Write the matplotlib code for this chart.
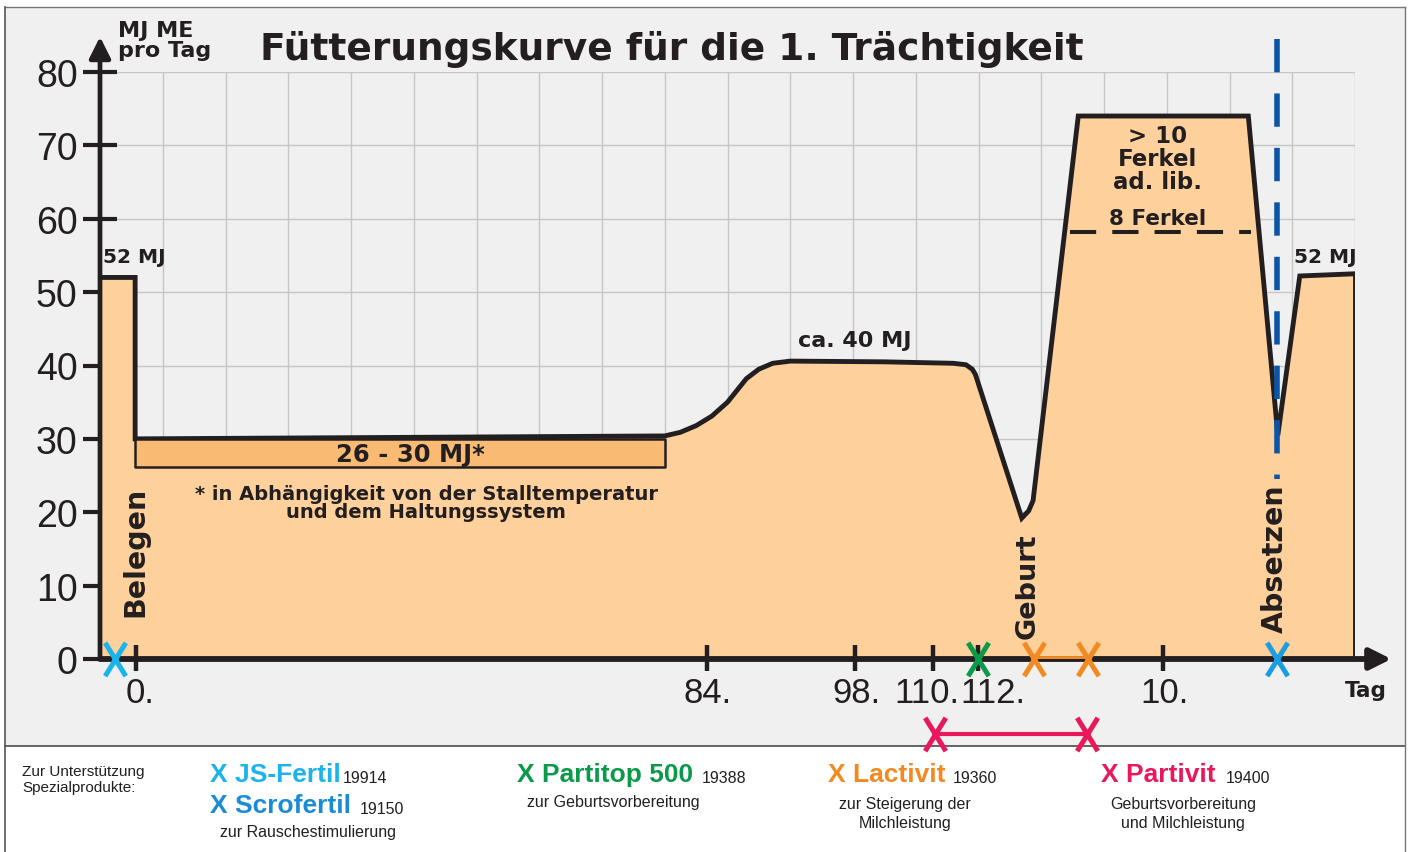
import matplotlib
matplotlib.use("Agg")
import matplotlib.pyplot as plt
from matplotlib.patches import Rectangle
from matplotlib.path import Path

# Curve (schematic x position in grid cells, MJ ME per day)
curve_x = [0, 0, 0.56, 0.56, 9.0, 9.25, 9.5, 9.75, 10.0, 10.15, 10.3, 10.5, 10.72, 11.0, 12.5,
           13.6, 13.8, 13.9, 13.95, 14.69, 14.8, 14.87, 15.59, 18.30, 18.77, 19.12, 20.0, 20.0]
curve_mj = [0, 52, 52, 30, 30.4, 30.9, 31.8, 33.1, 35.0, 36.6, 38.2, 39.5, 40.3, 40.6, 40.5,
            40.3, 40.1, 39.5, 38.8, 19.2, 20.2, 21.6, 74, 74, 30.5, 52.2, 52.5, 0]

# 26 - 30 MJ range band
band_x = [0.56, 9.0]
band_mj = [26.2, 30]

# 8 Ferkel level
ferkel8_x = [15.46, 18.35]
ferkel8_mj = 58.2

# x axis tick marks and labels
tick_pos = [0.57, 9.67, 12.03, 13.27, 13.99, 16.94]
tick_label_pos = [0.64, 9.69, 12.06, 13.18, 14.23, 16.97]
tick_labels = ["0.", "84.", "98.", "110.", "112.", "10."]
y_ticks = [0, 10, 20, 30, 40, 50, 60, 70, 80]

# product markers on the axis
marker_pos = [0.24, 13.99, 14.88, 15.75, 18.76]
marker_colors = ["#1ab4ea", "#0a9a4a", "#f28a22", "#f28a22", "#1a9ee0"]
partivit_pos = [13.31, 15.73]
absetzen_pos = 18.76

# legend products
prod_names = ["X JS-Fertil", "X Scrofertil", "X Partitop 500", "X Lactivit", "X Partivit"]
prod_nums = ["19914", "19150", "19388", "19360", "19400"]
prod_colors = ["#1ab4ea", "#1a8cd6", "#0a9a4a", "#f28a22", "#e8185a"]

W, H = 1410, 853
fig = plt.figure(figsize=(W / 100, H / 100), dpi=100)
fig.patch.set_facecolor("white")

def fx(px):
    return px / W

def fy(py):
    return 1 - py / H

# background panel
fig.patches.append(Rectangle((fx(5), fy(747)), fx(1400), (747 - 8) / H, transform=fig.transFigure,
                             facecolor="#f0f0f0", edgecolor="none", zorder=-5))
fig.add_artist(plt.Line2D([fx(5), fx(1405)], [fy(747), fy(747)], color="#4a4a4a", lw=1.2, zorder=-4))
fig.add_artist(plt.Line2D([fx(5), fx(1405)], [fy(8), fy(8)], color="#777777", lw=1.0, zorder=-4))
fig.add_artist(plt.Line2D([fx(5), fx(5)], [fy(8), 0], color="#555555", lw=1.2, zorder=-4))
fig.add_artist(plt.Line2D([fx(1405), fx(1405)], [fy(8), 0], color="#777777", lw=1.0, zorder=-4))

ax = fig.add_axes([fx(100), fy(660), 1255 / W, (660 - 73) / H])
ax.set_zorder(2)
ax.set_facecolor("none")
ax.set_xlim(0, 20)
ax.set_ylim(0, 80)
for s in ax.spines.values():
    s.set_visible(False)

ink = "#231f20"
sans = "Liberation Sans"

ax.set_xticks(range(0, 21))
ax.set_yticks(y_ticks)
ax.grid(True, color="#c6c6ca", lw=1.0, zorder=0)
ax.set_axisbelow(True)
ax.tick_params(axis="x", length=0, labelbottom=False)
ax.tick_params(axis="y", direction="inout", length=24, width=3, color=ink,
               labelsize=27, pad=4, labelcolor=ink)
for lab in ax.get_yticklabels():
    lab.set_family(sans)

ax.fill(curve_x, curve_mj, color="#fdd09c", zorder=2, lw=0)
ax.plot(curve_x[1:-1], curve_mj[1:-1], color=ink, lw=3.5, zorder=3, solid_joinstyle="miter")
ax.plot([20, 20], [0, 52.5], color=ink, lw=3.5, zorder=3)
ax.fill_between(band_x, band_mj[0], band_mj[1], facecolor="#f9bb74", edgecolor=ink, lw=1.8, zorder=3)
ax.plot(ferkel8_x, [ferkel8_mj] * 2, color=ink, lw=2.9, ls=(0, (6.5, 4)), zorder=4)

# blue weaning line
ax.plot([absetzen_pos] * 2, [84.5, 24.5], color="#0a55a8", lw=4, ls=(0, (6, 3.8)), zorder=4,
        clip_on=False)

# axes with arrows
ax.annotate("", xy=(20.58, 0), xytext=(0, 0), zorder=5, annotation_clip=False,
            arrowprops=dict(arrowstyle="-|>", lw=4.2, color=ink, mutation_scale=32, shrinkA=0, shrinkB=0))
ax.annotate("", xy=(0, 84.8), xytext=(0, 0), zorder=5, annotation_clip=False,
            arrowprops=dict(arrowstyle="-|>", lw=3.4, color=ink, mutation_scale=32, shrinkA=0, shrinkB=0))
for p in tick_pos:
    ax.plot([p, p], [-1.6, 1.9], color=ink, lw=3.2, zorder=5, clip_on=False, solid_capstyle="butt")
for p, lab in zip(tick_label_pos, tick_labels):
    ax.text(p, -4.6, lab, ha="center", va="center", fontsize=25, color=ink,
            family=sans, clip_on=False)
ax.text(20.17, -4.2, "Tag", ha="center", va="center", fontsize=15.5, fontweight="bold", color=ink,
        clip_on=False)

# product X markers (tall condensed cross)
xmark = Path([(-0.62, -1), (0.62, 1), (-0.62, 1), (0.62, -1)],
             [Path.MOVETO, Path.LINETO, Path.MOVETO, Path.LINETO])
ax.plot(marker_pos[2:4], [0, 0], color="#f28a22", lw=4.2, zorder=6)
for p, c in zip(marker_pos, marker_colors):
    ax.plot([p], [0], marker=xmark, ms=24, mew=3.6, color=c, ls="none", zorder=7, clip_on=False)
ax.plot(partivit_pos, [-10.2, -10.2], color="#e8185a", lw=3, zorder=6, clip_on=False)
ax.plot(partivit_pos, [-10.2, -10.2], marker=xmark, ms=24, mew=3.6, color="#e8185a", ls="none",
        zorder=7, clip_on=False)

# labels in the chart
bold = dict(fontweight="bold", color=ink, ha="center", va="center", zorder=8)
ax.text(0.54, 54.9, "52 MJ", fontsize=14.5, **bold)
ax.text(19.52, 54.8, "52 MJ", fontsize=14.5, **bold)
ax.text(12.02, 43.5, "ca. 40 MJ", fontsize=16, **bold)
ax.text(4.95, 28.0, "26 - 30 MJ*", fontsize=17.5, **bold)
ax.text(5.2, 21.3, "* in Abhängigkeit von der Stalltemperatur\nund dem Haltungssystem", fontsize=14,
        linespacing=0.95, **bold)
ax.text(0.57, 14.8, "Belegen", fontsize=20.5, rotation=90, **bold)
ax.text(14.79, 10.1, "Geburt", fontsize=19.5, rotation=90, **bold)
ax.text(18.73, 13.8, "Absetzen", fontsize=20.5, rotation=90, **bold)
ax.text(16.85, 68.2, "> 10\nFerkel\nad. lib.", fontsize=16.5, linespacing=1.0, **bold)
ax.text(16.85, 60.1, "8 Ferkel", fontsize=15.5, **bold)

fig.text(fx(118), fy(41), "MJ ME\npro Tag", fontsize=16, fontweight="bold", color=ink,
         ha="left", va="center", linespacing=1.0)
fig.text(fx(672), fy(49), "Fütterungskurve für die 1. Trächtigkeit", fontsize=27, fontweight="bold",
         color=ink, ha="center", va="center")

# legend area
small = dict(color=ink, family=sans, fontsize=11.5)
fig.text(fx(22), fy(780), "Zur Unterstützung\nSpezialprodukte:", fontsize=11, color=ink,
         family=sans, ha="left", va="center", linespacing=1.15)
name_xy = [(210, 775), (210, 806), (517, 775), (828, 775), (1101, 775)]
num_x = [343, 360, 702, 953, 1226]
for (px, py), nm, num, nx, c in zip(name_xy, prod_names, prod_nums, num_x, prod_colors):
    fig.text(fx(px), fy(py), nm, fontsize=19, fontweight="bold", color=c, ha="left", va="center",
             family=sans)
    fig.text(fx(nx), fy(py + 4), num, ha="left", va="center", **small)
fig.text(fx(220), fy(833), "zur Rauschestimulierung", ha="left", va="center", **small)
fig.text(fx(527), fy(803), "zur Geburtsvorbereitung", ha="left", va="center", **small)
fig.text(fx(905), fy(814), "zur Steigerung der\nMilchleistung", ha="center", va="center",
         linespacing=1.3, **small)
fig.text(fx(1183), fy(814), "Geburtsvorbereitung\nund Milchleistung", ha="center", va="center",
         linespacing=1.3, **small)

fig.savefig("out.png", dpi=100)
